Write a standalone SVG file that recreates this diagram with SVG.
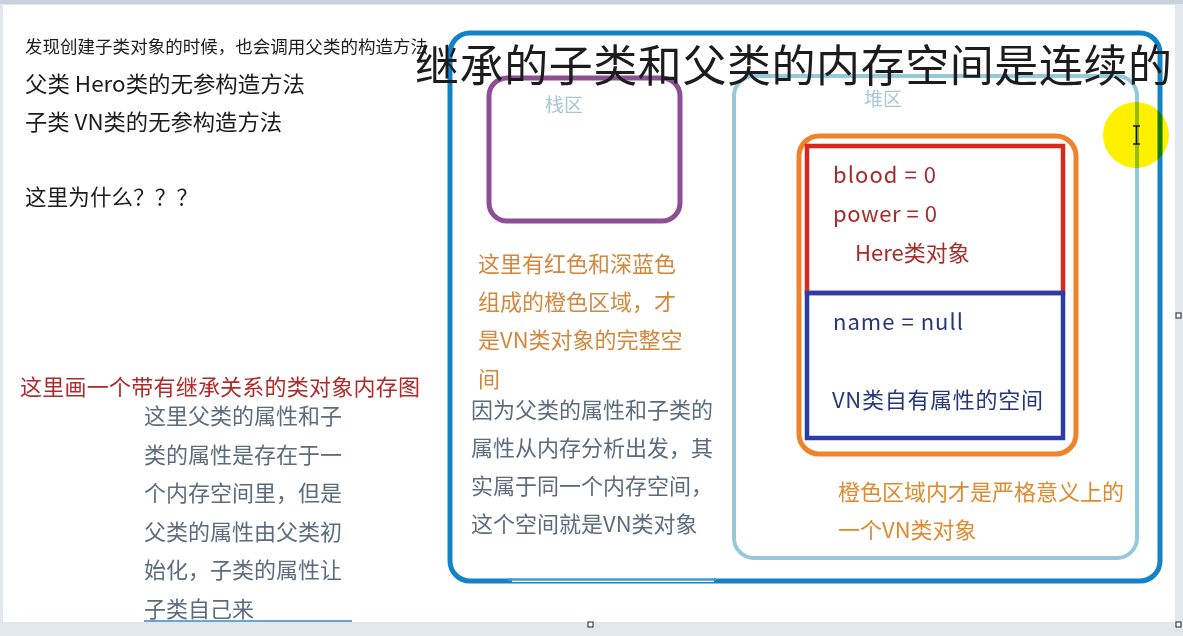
<svg xmlns="http://www.w3.org/2000/svg" width="1183" height="636" viewBox="0 0 1183 636">
<style>
  .cjk { font-family: "Noto Sans CJK SC", "Noto Sans", sans-serif; }
  .song { font-family: "Noto Sans CJK SC", sans-serif; fill: #1c1c1c; }
  .t22 { font-size: 22px; }
  .gray { fill: #5c6c7e; }
  .tan { fill: #d4873c; }
  .zone { fill: #a9c7d3; font-size: 19px; }
  .red { fill: #a82a2a; }
  .navy { fill: #26367a; }
  .org { fill: #e08a30; }
  .box { fill: none; }
  .handle { fill: #ffffff; stroke: #222222; stroke-width: 1; }
</style>
<!-- frame -->
<rect x="0" y="0" width="1183" height="636" fill="#e2e7ee"/>
<rect x="3" y="5" width="1172" height="617" fill="#ffffff"/>
<rect x="0" y="0" width="1183" height="4" fill="#c9d1dc"/>

<!-- left notes -->
<g id="notes-top">
  <text class="song" x="25" y="53" font-size="17.5" textLength="403">发现创建子类对象的时候，也会调用父类的构造方法</text>
  <text class="song" x="25" y="92" font-size="22" textLength="280" lengthAdjust="spacingAndGlyphs">父类 Hero类的无参构造方法</text>
  <text class="song" x="25" y="130" font-size="22" textLength="257" lengthAdjust="spacingAndGlyphs">子类 VN类的无参构造方法</text>
  <text class="song" x="25" y="205" font-size="21.5" textLength="173">这里为什么？？？</text>
</g>
<g id="note-red">
  <text class="cjk" x="20" y="395" font-size="22" fill="#b02a2a" textLength="400">这里画一个带有继承关系的类对象内存图</text>
</g>
<g id="note-left" class="cjk t22 gray">
  <text x="144" y="424">这里父类的属性和子</text>
  <text x="144" y="463">类的属性是存在于一</text>
  <text x="144" y="501">个内存空间里，但是</text>
  <text x="144" y="540">父类的属性由父类初</text>
  <text x="144" y="578">始化，子类的属性让</text>
  <text x="144" y="617">子类自己来</text>
  <line x1="144" y1="621" x2="352" y2="621" stroke="#3a86bc" stroke-width="1.5"/>
</g>

<!-- outer memory container -->
<g id="memory">
  <rect class="box" x="450" y="33" width="710" height="548" rx="20" stroke="#1383c8" stroke-width="5"/>
  <line x1="512" y1="579" x2="714" y2="579" stroke="#ffffff" stroke-width="6"/>
  <line x1="508" y1="579.5" x2="716" y2="579.5" stroke="#3c9ad6" stroke-width="2.5"/>
</g>

<!-- stack -->
<g id="stack">
  <rect class="box" x="489" y="78" width="191" height="143" rx="18" stroke="#8d4e96" stroke-width="5"/>
  <text class="cjk zone" x="545" y="112">栈区</text>
</g>

<!-- heap -->
<g id="heap">
  <rect class="box" x="734" y="76" width="403" height="482" rx="20" stroke="#94c9dc" stroke-width="4"/>
  <text class="cjk zone" x="864" y="106">堆区</text>
</g>

<!-- VN object -->
<g id="vn-object">
  <rect class="box" x="799" y="136" width="277" height="318" rx="20" stroke="#f0832a" stroke-width="5"/>
</g>
<g id="hero-part">
  <rect class="box" x="807" y="146" width="256" height="147" stroke="#d8271f" stroke-width="4.5"/>
  <text class="cjk t22 red" x="833" y="183" textLength="103">blood = 0</text>
  <text class="cjk t22 red" x="833" y="222" textLength="104">power = 0</text>
  <text class="cjk t22 red" x="855" y="261">Here类对象</text>
</g>
<g id="vn-part">
  <rect class="box" x="807" y="293" width="256" height="145" stroke="#2a3ca8" stroke-width="4.5"/>
  <text class="cjk t22 navy" x="833" y="330" textLength="130">name = null</text>
  <text class="cjk t22 navy" x="832" y="408" textLength="211">VN类自有属性的空间</text>
</g>

<!-- middle notes -->
<g id="note-orange" class="cjk t22 tan">
  <text x="478" y="272">这里有红色和深蓝色</text>
  <text x="478" y="310">组成的橙色区域，才</text>
  <text x="478" y="348">是VN类对象的完整空</text>
  <text x="478" y="387">间</text>
</g>
<g id="note-middle" class="cjk t22 gray">
  <text x="471" y="418">因为父类的属性和子类的</text>
  <text x="471" y="456">属性从内存分析出发，其</text>
  <text x="471" y="494">实属于同一个内存空间，</text>
  <text x="471" y="532">这个空间就是VN类对象</text>
</g>
<g id="note-heap" class="cjk t22 org">
  <text x="838" y="500">橙色区域内才是严格意义上的</text>
  <text x="838" y="538">一个VN类对象</text>
</g>

<!-- title -->
<g id="title">
  <text class="song" x="415" y="82" font-size="44" textLength="757" fill="#000000">继承的子类和父类的内存空间是连续的</text>
</g>

<!-- cursor highlight -->
<g id="cursor">
  <circle cx="1136" cy="135" r="33" fill="#fff000" style="mix-blend-mode:multiply"/>
  <path d="M1133 126 H1140 M1136.5 126 V144 M1133 144 H1140" stroke="#111111" stroke-width="1.3" fill="none"/>
</g>

<!-- selection handles -->
<g id="handles">
  <rect class="handle" x="588" y="622" width="5" height="5"/>
  <rect class="handle" x="1176" y="622" width="5" height="5"/>
  <rect class="handle" x="1176" y="313" width="5" height="5"/>
</g>
</svg>
